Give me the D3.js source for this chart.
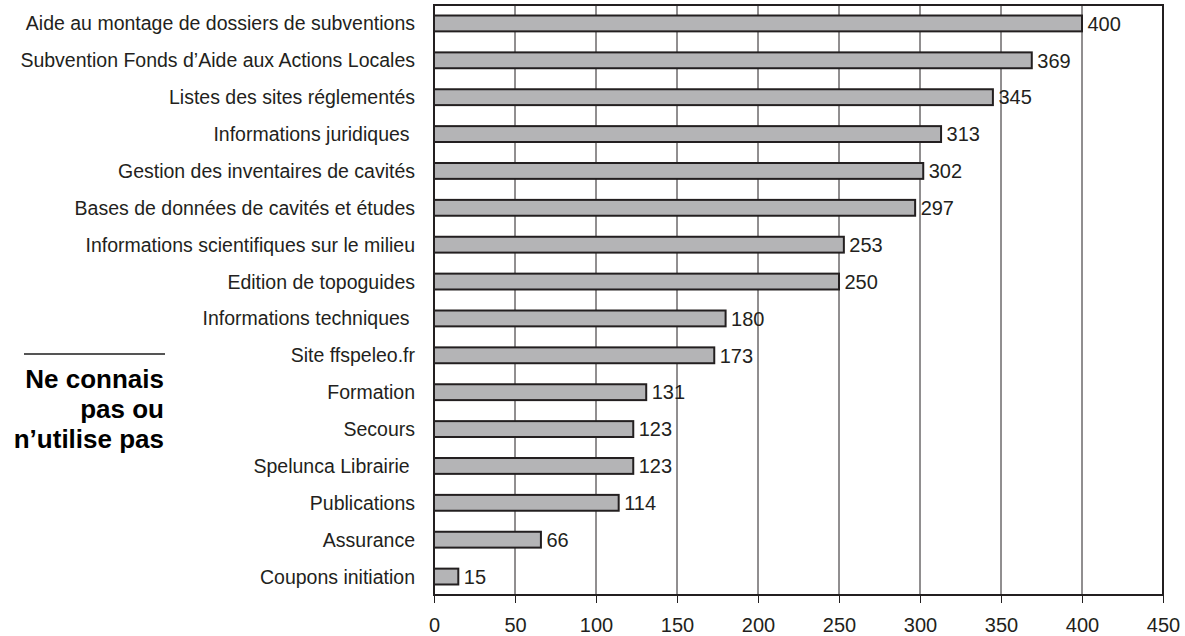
<!DOCTYPE html>
<html><head><meta charset="utf-8">
<script src="https://cdn.jsdelivr.net/npm/d3@7"></script>
<style>
body{margin:0;background:#fff;}
text{white-space:pre;}
</style>
</head><body>
<svg id="chart" width="1185" height="636"></svg>
<script>
const categories = [
 "Aide au montage de dossiers de subventions",
 "Subvention Fonds d’Aide aux Actions Locales",
 "Listes des sites réglementés",
 "Informations juridiques ",
 "Gestion des inventaires de cavités",
 "Bases de données de cavités et études",
 "Informations scientifiques sur le milieu",
 "Edition de topoguides",
 "Informations techniques ",
 "Site ffspeleo.fr",
 "Formation",
 "Secours",
 "Spelunca Librairie ",
 "Publications",
 "Assurance",
 "Coupons initiation"
];
const values = [400, 369, 345, 313, 302, 297, 253, 250, 180, 173, 131, 123, 123, 114, 66, 15];
const xTicks = [0, 50, 100, 150, 200, 250, 300, 350, 400, 450];
const sideTitle = ["Ne connais", "pas ou", "n’utilise pas"];

const svg = d3.select("#chart");
const L = 434, R = 1163, T = 5, B = 595;
const x = d3.scaleLinear().domain([0, 450]).range([L, R]);
const y = d3.scaleBand().domain(categories).range([T, B]).paddingInner(0.57).paddingOuter(0.285);
const ink = "#231f20";
const font = "Liberation Sans, Arial, sans-serif";

// gridlines
svg.append("g").selectAll("line").data(xTicks.slice(1, -1)).join("line")
  .attr("x1", d => x(d)).attr("x2", d => x(d)).attr("y1", T).attr("y2", B)
  .attr("stroke", ink).attr("stroke-width", 1);

// bars
svg.append("g").selectAll("rect").data(values).join("rect")
  .attr("x", x(0)).attr("y", (d, i) => y(categories[i]))
  .attr("width", d => x(d) - x(0)).attr("height", y.bandwidth())
  .attr("fill", "#b4b4b6").attr("stroke", ink).attr("stroke-width", 2);

// value labels
svg.append("g").selectAll("text").data(values).join("text")
  .attr("x", d => x(d) + 5.5).attr("y", (d, i) => y(categories[i]) + y.bandwidth() / 2)
  .attr("dy", "0.36em").attr("font-family", font)
  .attr("font-size", 20).attr("fill", ink).text(d => d);

// frame
svg.append("rect").attr("x", L).attr("y", T).attr("width", R - L).attr("height", B - T)
  .attr("fill", "none").attr("stroke", ink).attr("stroke-width", 2);

// x axis
const xa = svg.append("g").attr("transform", `translate(0,${B})`)
  .call(d3.axisBottom(x).tickValues(xTicks).tickSize(8).tickPadding(15).tickSizeOuter(0));
xa.select(".domain").remove();
xa.selectAll("line").attr("stroke", ink);
xa.selectAll("text").attr("font-family", font)
  .attr("font-size", 20).attr("fill", ink);

// category labels
svg.append("g").selectAll("text").data(categories).join("text")
  .attr("x", 415).attr("y", d => y(d) + y.bandwidth() / 2)
  .attr("dy", "0.36em").attr("text-anchor", "end")
  .attr("font-family", font)
  .attr("font-size", 19.5).attr("fill", ink).text(d => d);

// side title
svg.append("line").attr("x1", 24).attr("x2", 165).attr("y1", 354).attr("y2", 354)
  .attr("stroke", "#555").attr("stroke-width", 2);
svg.append("g").selectAll("text").data(sideTitle).join("text")
  .attr("x", 164).attr("y", (d, i) => 388 + i * 30).attr("text-anchor", "end")
  .attr("font-family", font).attr("font-weight", 700)
  .attr("font-size", 26).attr("fill", "#000").text(d => d);
</script>
</body></html>
